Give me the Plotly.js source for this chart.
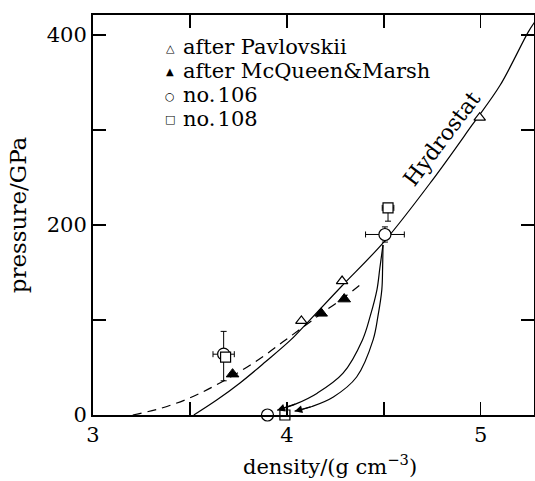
<!DOCTYPE html>
<html>
<head>
<meta charset="utf-8">
<script src="https://cdn.plot.ly/plotly-3.0.1.min.js"></script>
<style>html,body{margin:0;padding:0;background:#fff;}</style>
</head>
<body>
<div id="chart" style="width:535px;height:481px;"></div>
<script>
// Data (density in g cm^-3, pressure in GPa)
var hydroD = [3.52, 3.64, 3.76, 3.89, 4.02, 4.10, 4.28, 4.50, 4.75, 4.955, 5.10, 5.245, 5.28];
var hydroP = [0, 16, 34, 56, 79, 96, 135, 182, 247, 305, 347, 403, 414];

var dashD = [3.205, 3.35, 3.50, 3.63, 3.76, 3.88, 3.98, 4.08, 4.18, 4.29, 4.39];
var dashP = [0, 7, 18, 31, 46, 62, 77, 92, 107, 123, 139];

var unloadAD = [4.496, 4.480, 4.465, 4.43, 4.39, 4.29, 4.157, 4.05, 3.95];
var unloadAP = [179, 155, 132, 104, 79, 44, 23, 12, 5];
var unloadBD = [4.496, 4.494, 4.49, 4.47, 4.445, 4.36, 4.24, 4.13, 4.04];
var unloadBP = [179, 155, 132, 104, 79, 40, 19, 9, 4];

var pavD = [4.075, 4.285, 4.995];
var pavP = [99, 141, 313];

var mcqD = [3.72, 4.177, 4.296];
var mcqP = [43, 107, 122];

var n106D = [3.674, 4.506, 3.90];
var n106P = [64, 190, 0];
var n106ErrXD = [0.055, 0.10, 0];
var n106ErrYUp = [24, 8, 0];
var n106ErrYDown = [28, 8, 0];

var n108D = [3.684, 4.522, 3.99];
var n108P = [61, 218, 0];
var n108ErrXD = [0, 0.03, 0];
var n108ErrYUp = [0, 0, 0];
var n108ErrYDown = [0, 14, 0];

var legendNames = ['after Pavlovskii', 'after McQueen&Marsh', 'no.\u200a106', 'no.\u200a108'];
var legendGlyphs = ['\u25B3', '\u25B2', '\u25CB', '\u25A1'];

var FONT = 'DejaVu Serif';

var traces = [
  {x: hydroD, y: hydroP, mode: 'lines', line: {color: 'black', width: 1.2, shape: 'spline'}},
  {x: dashD, y: dashP, mode: 'lines', line: {color: 'black', width: 1.2, dash: '9px,6px', shape: 'spline'}},
  {x: unloadAD, y: unloadAP, mode: 'lines', line: {color: 'black', width: 1.2, shape: 'spline'}},
  {x: unloadBD, y: unloadBP, mode: 'lines', line: {color: 'black', width: 1.2, shape: 'spline'}},
  {x: pavD, y: pavP, mode: 'markers', name: legendNames[0], cliponaxis: false,
   marker: {symbol: 'triangle-up', size: 10, color: 'white', line: {color: 'black', width: 1.2}}},
  {x: mcqD, y: mcqP, mode: 'markers', name: legendNames[1], cliponaxis: false,
   marker: {symbol: 'triangle-up', size: 11, color: 'black', line: {color: 'black', width: 1}}},
  {x: n106D, y: n106P, mode: 'markers', name: legendNames[2], cliponaxis: false,
   error_x: {type: 'data', array: n106ErrXD, color: 'black', thickness: 1, width: 3},
   error_y: {type: 'data', array: n106ErrYUp, arrayminus: n106ErrYDown, symmetric: false, color: 'black', thickness: 1, width: 3},
   marker: {symbol: 'circle', size: 12, color: 'white', line: {color: 'black', width: 1.2}}},
  {x: n108D, y: n108P, mode: 'markers', name: legendNames[3], cliponaxis: false,
   error_x: {type: 'data', array: n108ErrXD, color: 'black', thickness: 1, width: 3},
   error_y: {type: 'data', array: n108ErrYUp, arrayminus: n108ErrYDown, symmetric: false, color: 'black', thickness: 1, width: 3},
   marker: {symbol: 'square', size: 10, color: 'white', line: {color: 'black', width: 1.2}}}
];

var axisCommon = {
  showgrid: false, zeroline: false, showline: true, linecolor: 'black', linewidth: 2,
  ticks: 'inside', ticklen: 13, tickwidth: 1.5, tickcolor: 'black', mirror: 'ticks',
  tickfont: {family: FONT, size: 21, color: 'black'}, fixedrange: true
};

// legend drawn as text lines (key glyph + label), placed in paper coordinates
var legendTop = 47, legendStep = 24; // px from top of figure
function paperY(py) { return (415 - py) / 400; }
function paperX(px) { return (px - 93) / 441; }
var legendAnn = [];
for (var i = 0; i < legendNames.length; i++) {
  var py = legendTop + i * legendStep;
  legendAnn.push({xref: 'paper', yref: 'paper', x: paperX(170), y: paperY(py + 1), xanchor: 'center', yanchor: 'middle',
    showarrow: false, text: legendGlyphs[i], font: {family: 'DejaVu Sans', size: i === 1 ? 10 : 11, color: 'black'}});
  legendAnn.push({xref: 'paper', yref: 'paper', x: paperX(181), y: paperY(py), xanchor: 'left', yanchor: 'middle',
    showarrow: false, text: legendNames[i], font: {family: FONT, size: 21, color: 'black'}});
}

var layout = {
  width: 535, height: 481,
  margin: {l: 93, r: 1, t: 15, b: 66},
  font: {family: FONT, color: 'black'},
  paper_bgcolor: 'white', plot_bgcolor: 'white',
  showlegend: false,
  xaxis: Object.assign({}, axisCommon, {
    range: [3, 5.275], tickvals: [3, 3.5, 4, 4.5, 5], ticktext: ['3', '', '4', '', '5'],
    ticklabelstandoff: 0
  }),
  yaxis: Object.assign({}, axisCommon, {
    range: [0, 421], tickvals: [0, 100, 200, 300, 400], ticktext: ['0', '', '200', '', '400'],
    title: {text: 'pressure/GPa', font: {family: FONT, size: 23, color: 'black'}, standoff: 14}
  }),
  annotations: [
    {xref: 'paper', yref: 'paper', x: (330 - 93) / 441, y: -0.125, yanchor: 'middle', xanchor: 'center',
     showarrow: false, text: 'density/(g cm<sup>\u22123</sup>)', font: {family: FONT, size: 21, color: 'black'}},
    {x: 4.80, y: 291, xref: 'x', yref: 'y', text: 'Hydrostat', showarrow: false, textangle: -53,
     font: {family: FONT, size: 22, color: 'black'}},
    {x: unloadAD[unloadAD.length - 1], y: unloadAP[unloadAP.length - 1], ax: unloadAD[unloadAD.length - 2], ay: unloadAP[unloadAP.length - 2],
     xref: 'x', yref: 'y', axref: 'x', ayref: 'y', text: '', showarrow: true, arrowhead: 2, arrowsize: 1.4, arrowwidth: 1.1, arrowcolor: 'black'},
    {x: unloadBD[unloadBD.length - 1], y: unloadBP[unloadBP.length - 1], ax: unloadBD[unloadBD.length - 2], ay: unloadBP[unloadBP.length - 2],
     xref: 'x', yref: 'y', axref: 'x', ayref: 'y', text: '', showarrow: true, arrowhead: 2, arrowsize: 1.4, arrowwidth: 1.1, arrowcolor: 'black'}
  ].concat(legendAnn)
};

Plotly.newPlot('chart', traces, layout, {displayModeBar: false, staticPlot: true});
</script>
</body>
</html>
